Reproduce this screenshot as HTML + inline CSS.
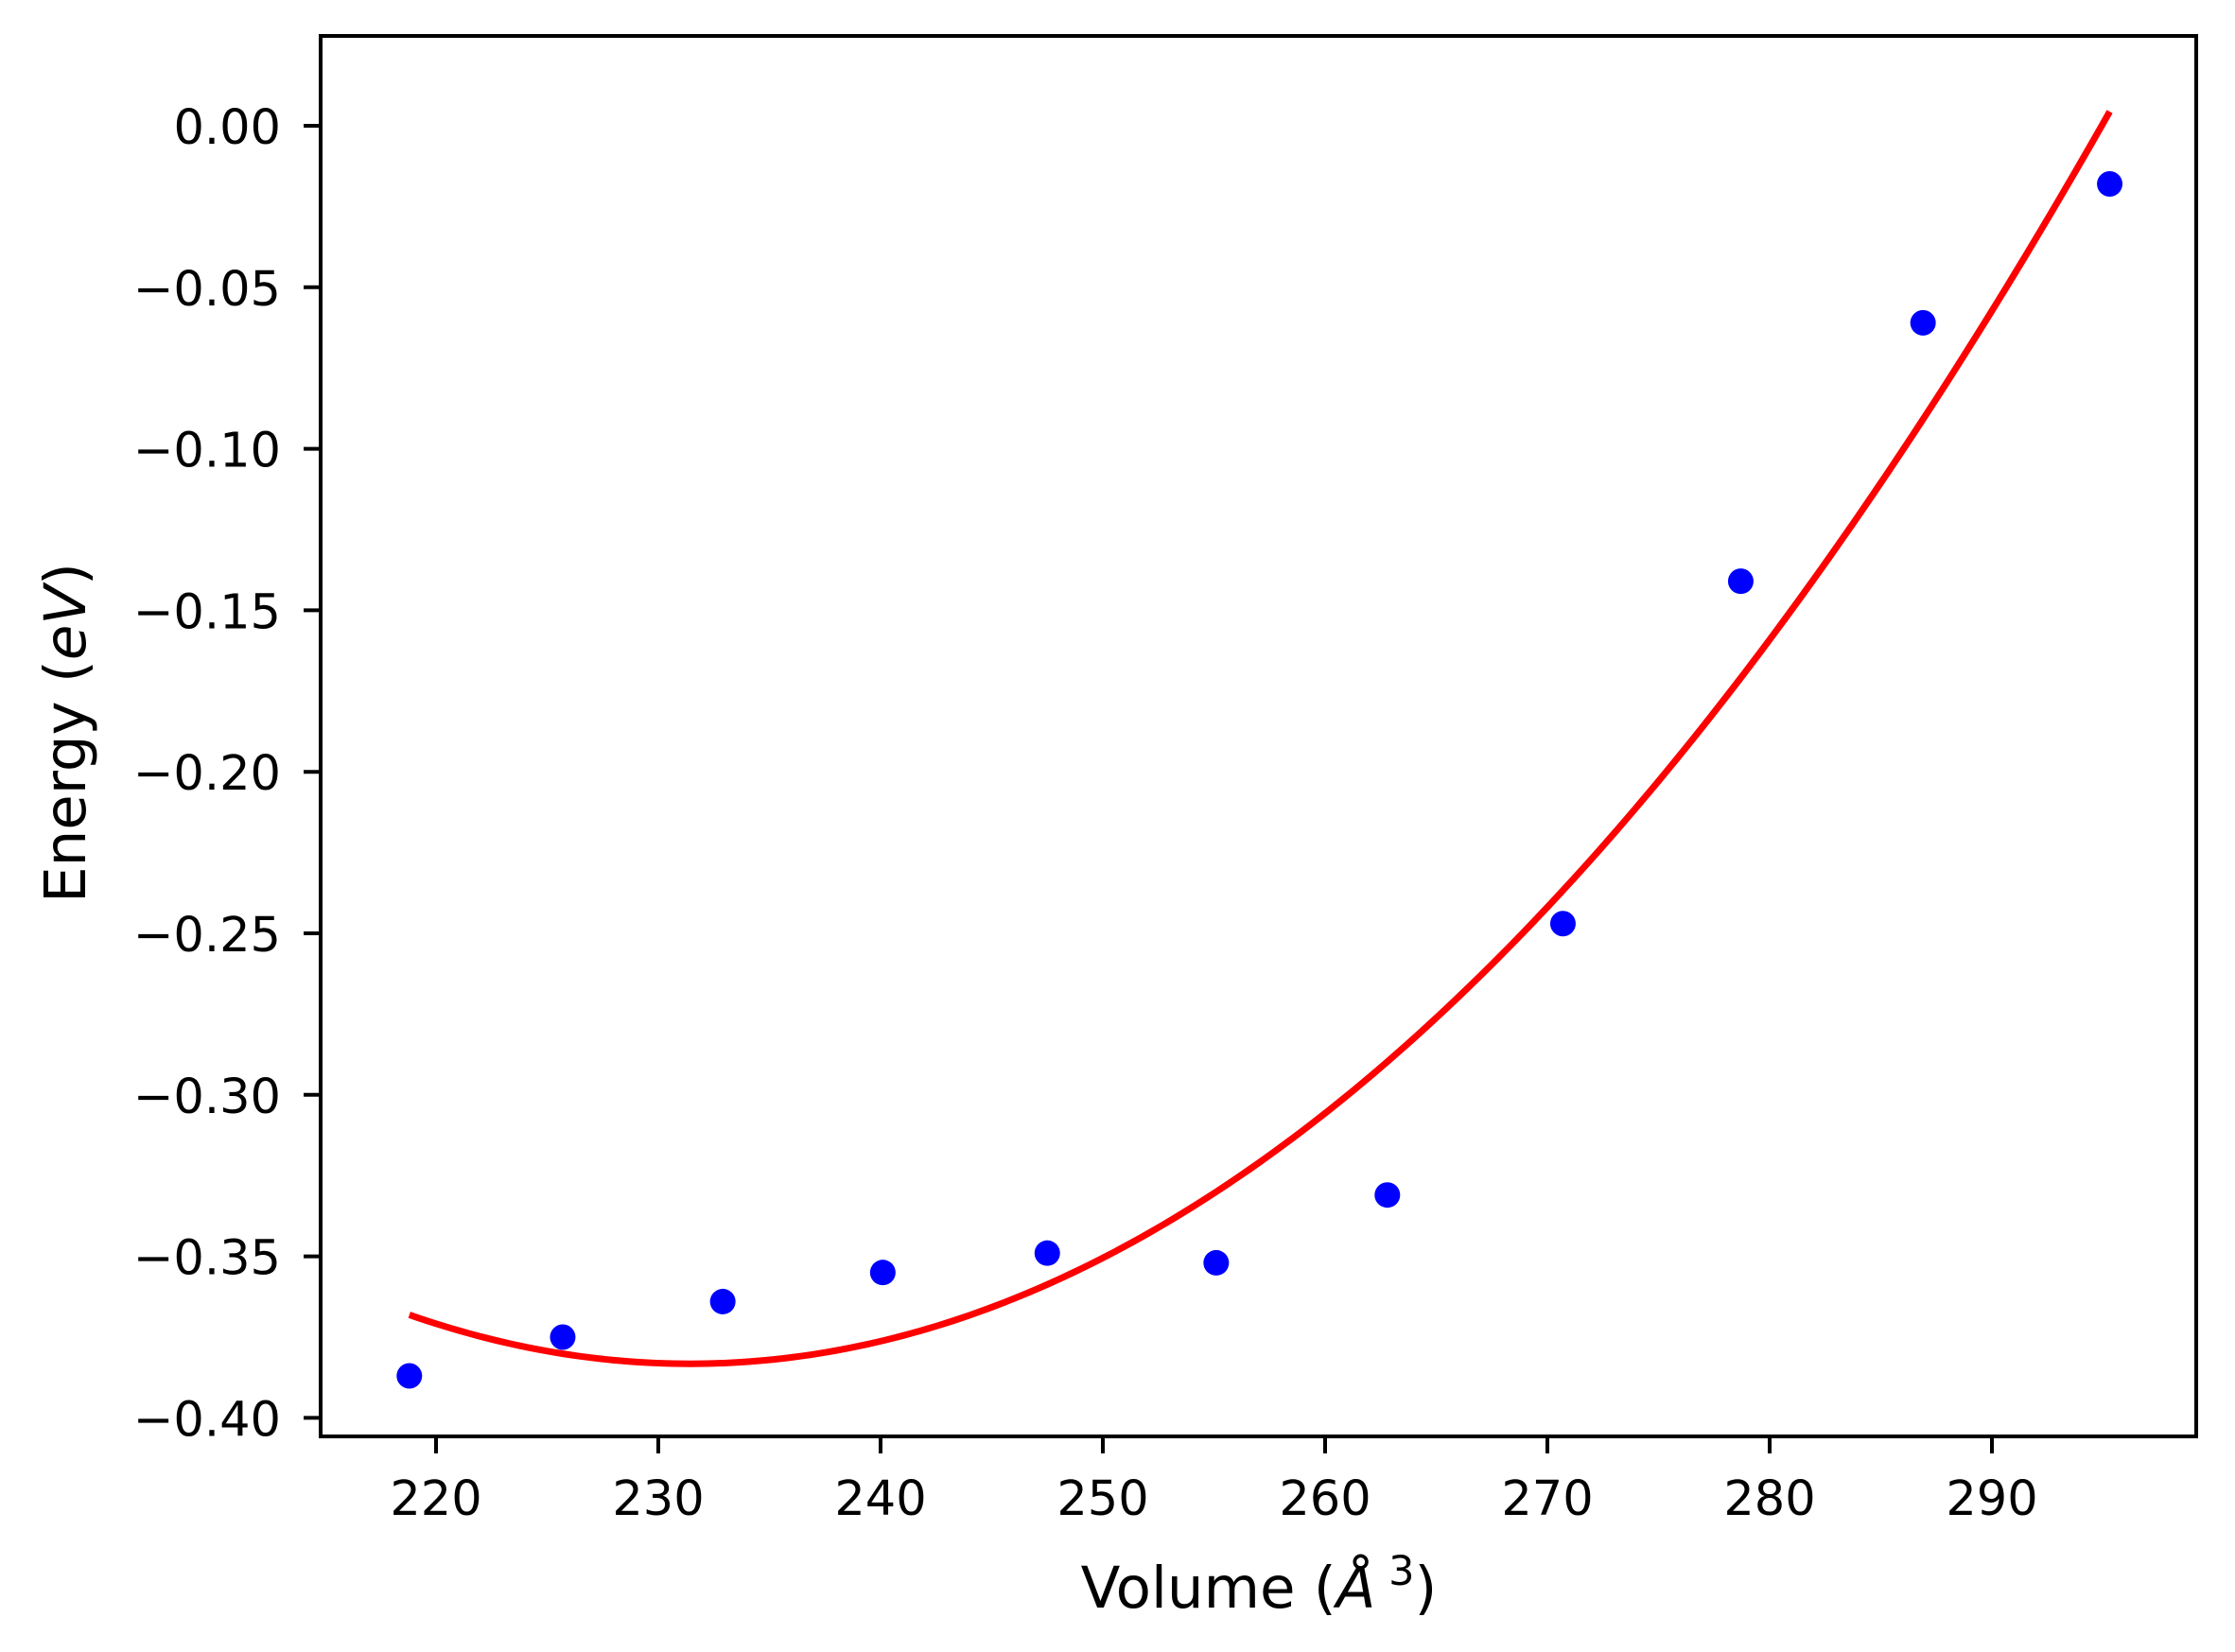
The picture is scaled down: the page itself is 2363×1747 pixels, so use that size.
<!DOCTYPE html>
<html><head><meta charset="utf-8"><style>
html,body{margin:0;padding:0;background:#fff;}
svg{display:block;}
text{font-family:"DejaVu Sans","Liberation Sans",sans-serif;fill:#000;}
</style></head><body>
<svg id="chart" width="2363" height="1747" viewBox="0 0 2363 1747" xmlns="http://www.w3.org/2000/svg">
<rect x="0" y="0" width="2363" height="1747" fill="#fff"/>
<g id="plot"></g>
<g id="curve"></g>
<g id="points"></g>
<g id="axes"></g>
<text x="1331" y="1700" font-size="61" text-anchor="middle">Volume (<tspan font-style="italic">Å</tspan><tspan dy="-24" font-size="43"> 3</tspan><tspan dy="24">)</tspan></text>
<text transform="translate(90,775) rotate(-90)" font-size="61" text-anchor="middle">Energy (<tspan font-style="italic">eV</tspan>)</text>
</svg>
<script>
const volumes = [218.8, 225.7, 232.9, 240.1, 247.5, 255.1, 262.8, 270.7, 278.7, 286.9, 295.3];
const energies = [-0.387, -0.375, -0.364, -0.355, -0.349, -0.352, -0.331, -0.247, -0.141, -0.061, -0.018];
const xTicks = [220, 230, 240, 250, 260, 270, 280, 290];
const yTicks = [0.00, -0.05, -0.10, -0.15, -0.20, -0.25, -0.30, -0.35, -0.40];

const NS = "http://www.w3.org/2000/svg";
const L = 339, R = 2322, T = 38, B = 1519;
function sx(v){ return 461 + (v - 220) * 23.5; }
function sy(e){ return 133 - e * 3416; }

// least-squares quadratic fit
function polyfit2(xs, ys){
  const n = xs.length; const xm = xs.reduce((a,b)=>a+b,0)/n;
  let S=[0,0,0,0,0], Ty=[0,0,0];
  for(let i=0;i<n;i++){ const u=xs[i]-xm; let p=1; for(let k=0;k<5;k++){S[k]+=p; if(k<3)Ty[k]+=p*ys[i]; p*=u;} }
  const A=[[S[0],S[1],S[2]],[S[1],S[2],S[3]],[S[2],S[3],S[4]]];
  const b=Ty.slice();
  for(let i=0;i<3;i++){ for(let j=i+1;j<3;j++){ const f=A[j][i]/A[i][i]; for(let k=i;k<3;k++)A[j][k]-=f*A[i][k]; b[j]-=f*b[i]; } }
  const c=[0,0,0];
  for(let i=2;i>=0;i--){ let s=b[i]; for(let k=i+1;k<3;k++)s-=A[i][k]*c[k]; c[i]=s/A[i][i]; }
  return v => { const u=v-xm; return c[0]+c[1]*u+c[2]*u*u; };
}

const axes = document.getElementById('axes');
xTicks.forEach(t=>{
  const x = sx(t);
  const ln = document.createElementNS(NS,'line');
  
  
  ln.setAttribute('x1',x); ln.setAttribute('x2',x); ln.setAttribute('y1',B); ln.setAttribute('y2',B+18);
  ln.setAttribute('stroke','#000'); ln.setAttribute('stroke-width','4');
  axes.appendChild(ln);
  const tx = document.createElementNS(NS,'text');
  
  
  tx.setAttribute('x',x); tx.setAttribute('y',1602); tx.setAttribute('font-size','51'); tx.setAttribute('text-anchor','middle');
  tx.textContent = String(t);
  axes.appendChild(tx);
});
yTicks.forEach(t=>{
  const y = sy(t);
  const ln = document.createElementNS(NS,'line');
  
  
  ln.setAttribute('x1',L-18); ln.setAttribute('x2',L); ln.setAttribute('y1',y); ln.setAttribute('y2',y);
  ln.setAttribute('stroke','#000'); ln.setAttribute('stroke-width','4');
  axes.appendChild(ln);
  const tx = document.createElementNS(NS,'text');
  
  
  tx.setAttribute('x',297); tx.setAttribute('y',y+19); tx.setAttribute('font-size','51'); tx.setAttribute('text-anchor','end');
  tx.textContent = (t<0?'\u2212':'') + Math.abs(t).toFixed(2);
  axes.appendChild(tx);
});
const frame = document.createElementNS(NS,'rect');


frame.setAttribute('x',L); frame.setAttribute('y',T); frame.setAttribute('width',R-L); frame.setAttribute('height',B-T);
frame.setAttribute('fill','none'); frame.setAttribute('stroke','#000'); frame.setAttribute('stroke-width','4');
axes.appendChild(frame);

const fit = polyfit2(volumes, energies);
const vmin = Math.min(...volumes), vmax = Math.max(...volumes);
let d = '';
for(let i=0;i<=200;i++){ const v = vmin + (vmax-vmin)*i/200; d += (i?'L':'M') + sx(v).toFixed(2) + ',' + sy(fit(v)).toFixed(2); }
const path = document.createElementNS(NS,'path');


path.setAttribute('d',d); path.setAttribute('fill','none'); path.setAttribute('stroke','#ff0000'); path.setAttribute('stroke-width','7');
document.getElementById('curve').appendChild(path);

const pts = document.getElementById('points');
volumes.forEach((v,i)=>{
  const c = document.createElementNS(NS,'circle');
  
  
  c.setAttribute('cx',sx(v)); c.setAttribute('cy',sy(energies[i])); c.setAttribute('r','13.5'); c.setAttribute('fill','#0000ff');
  pts.appendChild(c);
});
</script>
</body></html>
